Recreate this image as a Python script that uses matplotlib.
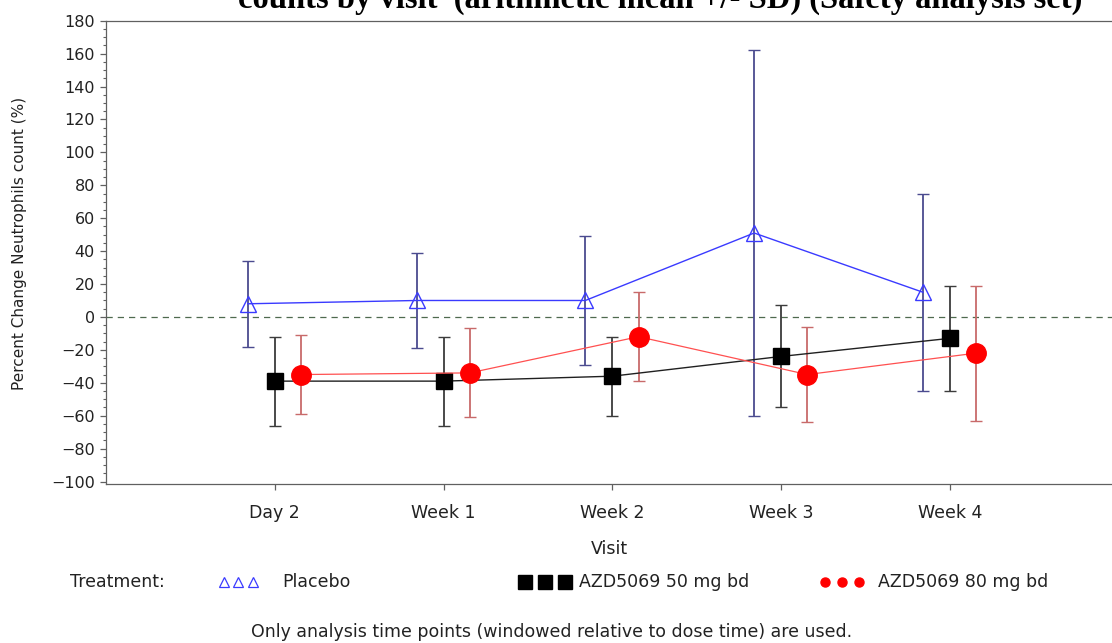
import matplotlib
matplotlib.use("Agg")
import matplotlib.pyplot as plt
from matplotlib.lines import Line2D
from matplotlib.ticker import MultipleLocator

visits = ["Day 2", "Week 1", "Week 2", "Week 3", "Week 4"]
placebo_mean = [8, 10, 10, 51, 15]
placebo_sd = [26, 29, 39, 111, 60]
azd50_mean = [-39, -39, -36, -24, -13]
azd50_sd = [27, 27, 24, 31, 32]
azd80_mean = [-35, -34, -12, -35, -22]
azd80_sd = [24, 27, 27, 29, 41]
yticks = list(range(-100, 181, 20))

fig = plt.figure(figsize=(11.12, 6.43), dpi=100)
ax = fig.add_axes([0.0953, 0.2473, 0.9047, 0.7205])

x = list(range(1, len(visits) + 1))
off = {"p": -0.16, "a": 0.0, "b": 0.155}

ax.axhline(0, color="#4f6a4f", lw=0.9, ls=(0, (5, 4)), zorder=1)

# error bars
ax.errorbar([v + off["p"] for v in x], placebo_mean, yerr=placebo_sd, fmt="none",
            ecolor="#4b4b8f", elinewidth=1.3, capsize=4, capthick=1.0, zorder=2)
ax.errorbar([v + off["a"] for v in x], azd50_mean, yerr=azd50_sd, fmt="none",
            ecolor="#3c3c3c", elinewidth=1.3, capsize=4, capthick=1.0, zorder=2)
ax.errorbar([v + off["b"] for v in x], azd80_mean, yerr=azd80_sd, fmt="none",
            ecolor="#c86a6a", elinewidth=1.3, capsize=4, capthick=1.0, zorder=2)

# mean lines
ax.plot([v + off["p"] for v in x], placebo_mean, color="#3a3aff", lw=1.0, zorder=3,
        marker="^", ms=12, mfc="none", mec="#3a3aff", mew=1.0)
ax.plot([v + off["a"] for v in x], azd50_mean, color="#202020", lw=1.0, zorder=3,
        marker="s", ms=11, mfc="black", mec="black")
ax.plot([v + off["b"] for v in x], azd80_mean, color="#ff5050", lw=0.9, zorder=3,
        marker="o", ms=14, mfc="#ff0000", mec="#ff0000")

ax.set_xlim(0, 5.96)
ax.set_ylim(-101.5, 180)
ax.set_xticks(x)
ax.set_xticklabels(visits)
ax.set_yticks(yticks)
ax.set_yticklabels([("\u2212" + str(-t)) if t < 0 else str(t) for t in yticks])
ax.yaxis.set_minor_locator(MultipleLocator(5))

for s in ["left", "bottom", "top"]:
    ax.spines[s].set_color("#606060")
    ax.spines[s].set_linewidth(0.9)
ax.spines["right"].set_visible(False)
ax.tick_params(axis="both", colors="#606060", labelcolor="#222222", labelsize=11.5,
               direction="out", length=4.5, width=0.9)
ax.tick_params(axis="y", which="minor", length=2.5, width=0.8, colors="#606060")
ax.tick_params(axis="x", pad=10, labelsize=12.5)

ax.set_xlabel("Visit", fontsize=12.5, color="#222222", labelpad=13)
ax.set_ylabel("Percent Change Neutrophils count (%)", fontsize=11, color="#222222")
ax.yaxis.set_label_coords(-0.0785, 0.52)

# cropped title (top of text is cut off in the source image)
fig.text(660 / 1112, 1 - 8 / 643, "counts by visit  (arithmetic mean +/- SD) (Safety analysis set)",
         ha="center", va="baseline", fontsize=23.5, fontweight="bold",
         family="Liberation Serif", color="black")

# legend
ly = 1 - 582 / 643
fs = 12.5
fig.text(70 / 1112, ly, "Treatment:", fontsize=fs, va="center", ha="left", color="#222222")
for px in [224, 238, 253]:
    fig.add_artist(Line2D([px / 1112], [ly], marker="^", ms=7, mfc="none",
                          mec="#3a3aff", mew=0.9, ls="none"))
fig.text(282 / 1112, ly, "Placebo", fontsize=fs, va="center", ha="left", color="#222222")
for px in [525, 545, 565]:
    fig.add_artist(Line2D([px / 1112], [ly], marker="s", ms=10, mfc="black",
                          mec="black", ls="none"))
fig.text(579 / 1112, ly, "AZD5069 50 mg bd", fontsize=fs, va="center", ha="left", color="#222222")
for px in [825, 842, 859]:
    fig.add_artist(Line2D([px / 1112], [ly], marker="o", ms=6.5, mfc="#ff0000",
                          mec="#ff0000", ls="none"))
fig.text(878 / 1112, ly, "AZD5069 80 mg bd", fontsize=fs, va="center", ha="left", color="#222222")

fig.text(552 / 1112, 1 - 632 / 643,
         "Only analysis time points (windowed relative to dose time) are used.",
         fontsize=fs, va="center", ha="center", color="#222222")

fig.savefig("out.png", dpi=100)
